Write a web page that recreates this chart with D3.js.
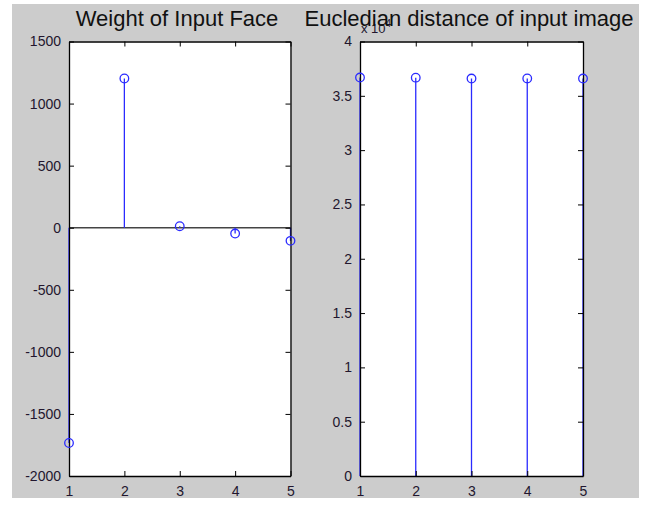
<!DOCTYPE html>
<html><head><meta charset="utf-8">
<script src="https://cdn.jsdelivr.net/npm/d3@7"></script>
<style>body{margin:0;background:#fff}svg{display:block}text{font-family:"Liberation Sans",Arial,sans-serif}</style>
</head><body>
<script>
const indices = [1, 2, 3, 4, 5];
const weights = [-1734, 1202, 12, -47, -106];
const distances = [3.668, 3.667, 3.659, 3.660, 3.659]; // x 10^4
const leftYTicks = [-2000, -1500, -1000, -500, 0, 500, 1000, 1500];
const rightYTicks = [0, 0.5, 1, 1.5, 2, 2.5, 3, 3.5, 4];
const xTicks = [1, 2, 3, 4, 5];
const titles = ["Weight of Input Face", "Eucledian distance of input image"];

const W = 646, H = 508;
const svg = d3.select("body").append("svg").attr("width", W).attr("height", H);
svg.append("rect").attr("x", 12).attr("y", 4).attr("width", 627).attr("height", 494).attr("fill", "#cccccc");

const plotTop = 41.5, plotBottom = 476;
const blue = "#2b2bff";

function panel(x0, x1, yDomain, yTicks, vals, fmt, baseline) {
  const x = d3.scaleLinear().domain([1, 5]).range([x0, x1]);
  const y = d3.scaleLinear().domain(yDomain).range([plotBottom, plotTop]);
  const g = svg.append("g");
  g.append("rect").attr("x", x0).attr("y", plotTop).attr("width", x1 - x0).attr("height", plotBottom - plotTop).attr("fill", "#fff");
  if (baseline) {
    g.append("line").attr("x1", x0).attr("x2", x1).attr("y1", y(0)).attr("y2", y(0))
      .attr("stroke", "#444").attr("stroke-width", 1.5);
  }
  g.selectAll(".stem").data(vals).enter().append("line")
    .attr("x1", (d, i) => x(indices[i])).attr("x2", (d, i) => x(indices[i]))
    .attr("y1", y(0)).attr("y2", d => y(d))
    .attr("stroke", blue).attr("stroke-width", 1.3);
  const ax = [
    [d3.axisLeft(y).tickValues(yTicks).tickFormat(fmt), `translate(${x0},0)`],
    [d3.axisRight(y).tickValues(yTicks).tickFormat(""), `translate(${x1},0)`],
    [d3.axisBottom(x).tickValues(xTicks).tickFormat(d => String(d)), `translate(0,${plotBottom})`],
    [d3.axisTop(x).tickValues(xTicks).tickFormat(""), `translate(0,${plotTop})`]
  ];
  ax.forEach(([a, t], k) => {
    const gg = g.append("g").attr("transform", t).call(a.tickSizeOuter(0).tickSizeInner(-5).tickPadding(k === 2 ? 10 : 8));
    gg.select(".domain").attr("stroke", "#000").attr("stroke-width", 1.3);
    gg.selectAll(".tick line").attr("stroke", "#000");
    gg.selectAll(".tick text").attr("fill", "#22162e").attr("font-size", 14)
      .attr("font-family", '"Liberation Sans", Arial, sans-serif');
  });
  g.selectAll(".mk").data(vals).enter().append("circle")
    .attr("cx", (d, i) => x(indices[i])).attr("cy", d => y(d)).attr("r", 4.3)
    .attr("fill", "none").attr("stroke", blue).attr("stroke-width", 1.3);
  return {x, y};
}

panel(69, 290.5, [-2000, 1500], leftYTicks, weights, d => String(d), true);
panel(360, 583, [0, 4], rightYTicks, distances, d => String(d), false);

const ex = svg.append("text").attr("x", 361).attr("y", 33).attr("font-size", 13).attr("fill", "#22162e");
ex.append("tspan").text("x 10");
ex.append("tspan").attr("dy", -6).attr("font-size", 10).text("4");

svg.append("text").attr("x", 177).attr("y", 26).attr("text-anchor", "middle")
  .attr("font-size", 22).attr("fill", "#111").text(titles[0]);
svg.append("text").attr("x", 469).attr("y", 26).attr("text-anchor", "middle")
  .attr("font-size", 22).attr("fill", "#111").text(titles[1]);
</script>
</body></html>
